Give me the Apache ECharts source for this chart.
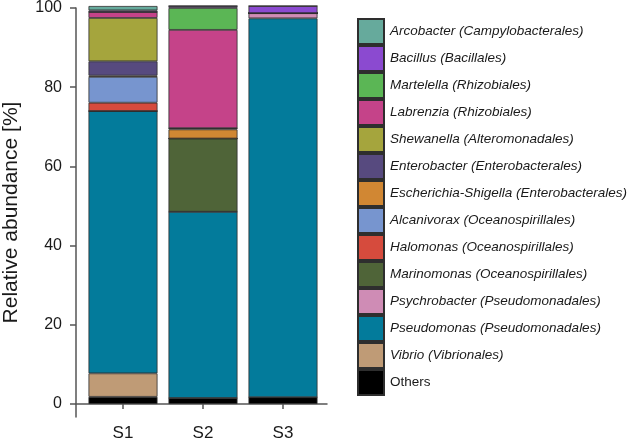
<!DOCTYPE html>
<html>
<head>
<meta charset="UTF-8">
<title></title>
<script src="https://cdn.jsdelivr.net/npm/echarts@6/dist/echarts.min.js"></script>
<style>
  html, body { margin: 0; padding: 0; background: #fff; }
  #main { width: 629px; height: 442px; }
</style>
</head>
<body>
<div id="main"></div>
<script>
// samples
var samples = ['S1', 'S2', 'S3'];
var yTicks = [0, 20, 40, 60, 80, 100];

// relative abundance per taxon, % (S1, S2, S3), bottom of stack first
var others        = [1.8, 1.5, 1.7];
var vibrio        = [5.9, 0, 0];
var pseudomonas   = [65.9, 46.8, 95.2];
var psychrobacter = [0, 0, 1.3];
var marinomonas   = [0, 18.4, 0];
var halomonas     = [2.1, 0, 0];
var alcanivorax   = [6.5, 0, 0];
var escherichia   = [0.3, 2.3, 0];
var enterobacter  = [3.6, 0.3, 0];
var shewanella    = [10.9, 0, 0];
var labrenzia     = [1.5, 24.7, 0];
var martelella    = [0, 5.5, 0];
var bacillus      = [0.4, 0.5, 1.8];
var arcobacter    = [1.1, 0, 0];

var taxa = [
  ['Others', others, '#000000'],
  ['Vibrio (Vibrionales)', vibrio, '#bf9b76'],
  ['Pseudomonas (Pseudomonadales)', pseudomonas, '#037b9b'],
  ['Psychrobacter (Pseudomonadales)', psychrobacter, '#cf8cb5'],
  ['Marinomonas (Oceanospirillales)', marinomonas, '#4f6438'],
  ['Halomonas (Oceanospirillales)', halomonas, '#d64b3d'],
  ['Alcanivorax (Oceanospirillales)', alcanivorax, '#7795cf'],
  ['Escherichia-Shigella (Enterobacterales)', escherichia, '#d18733'],
  ['Enterobacter (Enterobacterales)', enterobacter, '#574a7f'],
  ['Shewanella (Alteromonadales)', shewanella, '#a5a53d'],
  ['Labrenzia (Rhizobiales)', labrenzia, '#c54389'],
  ['Martelella (Rhizobiales)', martelella, '#5bb655'],
  ['Bacillus (Bacillales)', bacillus, '#8b4ad0'],
  ['Arcobacter (Campylobacterales)', arcobacter, '#66aa9c']
];

var yMin = -3.27, yMax = 100;
var axisColor = '#555';
var txt = '#1a1a1a';

var series = taxa.map(function (t) {
  return {
    name: t[0],
    type: 'bar',
    stack: 'all',
    xAxisIndex: 0,
    yAxisIndex: 0,
    barWidth: 69,
    itemStyle: { color: t[2], borderColor: '#2e2e2e', borderWidth: 0.8 },
    data: t[1]
  };
});

var legendNames = taxa.map(function (t) { return t[0]; }).reverse();

var myChart = echarts.init(document.getElementById('main'));

var option = {
  animation: false,
  grid: [
    // bars
    { left: 83, width: 240, top: 6, bottom: 25 },
    // axis frame, a bit wider than the bars
    { left: 74, right: 302, top: 6, bottom: 25 }
  ],
  legend: {
    data: legendNames,
    orient: 'vertical',
    left: 357,
    top: 18,
    padding: 0,
    icon: 'rect',
    itemWidth: 26,
    itemHeight: 25,
    itemGap: 0,
    selectedMode: false,
    formatter: function (name) {
      return name === 'Others' ? '{n|' + name + '}' : '{i|' + name + '}';
    },
    textStyle: {
      rich: {
        i: { fontFamily: 'Liberation Sans, Arial', fontStyle: 'italic', fontSize: 13.5, color: txt, padding: [0, 0, 0, 1] },
        n: { fontFamily: 'Liberation Sans, Arial', fontSize: 13.5, color: txt, padding: [0, 0, 0, 1] }
      }
    }
  },
  xAxis: [
    {
      type: 'category',
      gridIndex: 0,
      data: samples,
      axisLine: { show: false },
      axisTick: { show: true, alignWithLabel: true, length: 5, lineStyle: { color: axisColor, width: 1.5 } },
      axisLabel: { margin: 8, fontFamily: 'Liberation Sans, Arial', fontSize: 17, color: txt }
    },
    {
      type: 'value',
      gridIndex: 1,
      min: 0,
      max: 1,
      splitLine: { show: false },
      axisLine: { show: true, lineStyle: { color: axisColor, width: 1.5 } },
      axisTick: { show: false },
      axisLabel: { show: false }
    }
  ],
  yAxis: [
    {
      type: 'value',
      gridIndex: 0,
      min: yMin,
      max: yMax,
      show: false
    },
    {
      type: 'value',
      gridIndex: 1,
      min: yMin,
      max: yMax,
      name: 'Relative abundance [%]',
      nameLocation: 'middle',
      nameGap: 54,
      nameTextStyle: { fontFamily: 'Liberation Sans, Arial', fontSize: 21, color: txt },
      splitLine: { show: false },
      axisLine: { show: true, lineStyle: { color: axisColor, width: 1.5 } },
      axisTick: { show: true, length: 6, customValues: yTicks, lineStyle: { color: axisColor, width: 1.5 } },
      axisLabel: {
        customValues: yTicks,
        margin: 14,
        fontFamily: 'Liberation Sans, Arial',
        fontSize: 16,
        color: txt
      }
    }
  ],
  series: series
};

myChart.setOption(option);
</script>
</body>
</html>
